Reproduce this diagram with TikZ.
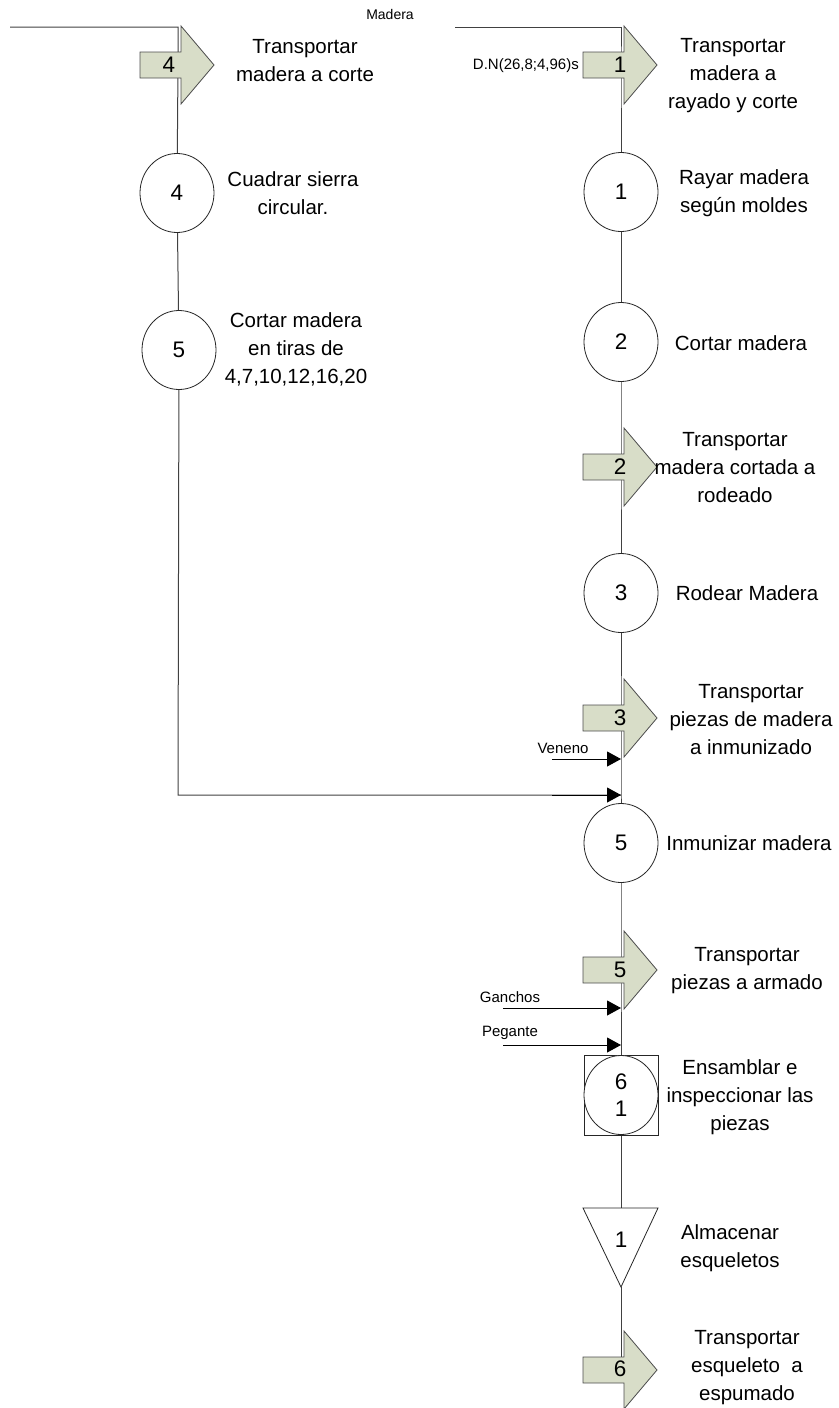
\documentclass[tikz,border=0pt]{standalone}
\usepackage{fontspec}
\setmainfont{Liberation Sans}
\usetikzlibrary{shapes.geometric,arrows.meta}
\definecolor{movefill}{RGB}{216,221,200}
\definecolor{lineg}{RGB}{65,65,65}
\pgfdeclarelayer{bg}
\pgfsetlayers{bg,main}

% transport symbol: block arrow centred on the flow line at #1
\newcommand\movearrow[1]{%
  \path[movebox] ([shift={(-38,13)}]#1) -- ([shift={(3,13)}]#1) -- ([shift={(3,39)}]#1)
    -- ([shift={(36,0)}]#1) -- ([shift={(3,-39)}]#1) -- ([shift={(3,-13)}]#1)
    -- ([shift={(-38,-13)}]#1) -- cycle;}

\begin{document}
\begin{tikzpicture}[x=1pt,y=-1pt,
  flow/.style={draw=lineg, line width=1pt},
  feed/.style={draw=black, line width=1pt, -{Triangle[length=14pt,width=15pt]}},
  op/.style={draw=black!85, line width=0.8pt, ellipse, minimum width=74pt,
    minimum height=79pt, inner sep=0pt, fill=white, font=\fontsize{22.5}{24}\selectfont},
  desc/.style={align=center, font=\fontsize{20.5}{28}\selectfont, inner sep=0pt},
  tag/.style={font=\fontsize{15}{18}\selectfont, inner sep=0pt},
  num/.style={font=\fontsize{22.5}{24}\selectfont, inner sep=0pt},
  movebox/.style={draw=black!70, line width=0.8pt, fill=movefill, line join=miter},
  storebox/.style={draw=black!85, line width=0.8pt, fill=white, line join=miter},
]
\useasboundingbox (0,0) rectangle (838,1408);

% ---------- left branch ----------
\coordinate (l0) at (10,27);
\coordinate (ltop) at (178,27);
\coordinate (a4) at (178,65);
\coordinate (lbot) at (178,795);

\movearrow{a4}
\node[num] (m4) at (169,65) {4};
\node[desc] (d4) at (305,61) {Transportar\\madera a corte};

\node[op] (o4) at (177,193) {4};
\node[desc] (t4) at (293,193) {Cuadrar sierra\\circular.};

\node[op] (o5l) at (179,350) {5};
\node[desc] (t5l) at (296,349) {Cortar madera\\en tiras de\\4,7,10,12,16,20};

% ---------- main branch ----------
\coordinate (r0) at (455,27);
\coordinate (rtop) at (621,27);
\node[tag] (madera) at (390,14) {\fontsize{14}{16}\selectfont Madera};

\coordinate (a1) at (621,65);
\movearrow{a1}
\node[num] (m1) at (620,65) {1};
\node[tag, anchor=east] (dn) at (579,66) {D.N(26,8;4,96)s};
\node[desc] (d1) at (733,76) {Transportar\\madera a\\rayado y corte};

\node[op] (o1) at (621,192) {1};
\node[desc] (t1) at (744,193) {Rayar madera\\según moldes};

\node[op] (o2) at (621,342) {2};
\node[desc] (t2) at (741,343) {Cortar madera};

\coordinate (a2) at (621,467);
\movearrow{a2}
\node[num] (m2) at (620,467) {2};
\node[desc] (d2) at (735,468) {Transportar\\madera cortada a\\rodeado};

\node[op] (o3) at (621,593) {3};
\node[desc] (t3) at (747,593) {Rodear Madera};

\coordinate (a3) at (621,718);
\movearrow{a3}
\node[num] (m3) at (620,718) {3};
\node[desc] (d3) at (751,720) {Transportar\\piezas de madera\\a inmunizado};

\coordinate (vin) at (552,759);
\coordinate (vj) at (621,759);
\node[tag] (veneno) at (563,748) {Veneno};

\coordinate (jf) at (552,795);
\coordinate (jn) at (621,795);

\node[op] (o5) at (621,843) {5};
\node[desc] (t5) at (749,843) {Inmunizar madera};

\coordinate (a5) at (621,970);
\movearrow{a5}
\node[num] (m5) at (620,970) {5};
\node[desc] (d5) at (747,971) {Transportar\\piezas a armado};

\coordinate (gin) at (503,1008);
\coordinate (gj) at (621,1008);
\node[tag] (ganchos) at (510,997) {Ganchos};
\coordinate (pin) at (503,1045);
\coordinate (pj) at (621,1045);
\node[tag] (pegante) at (510,1033) {Pegante};

\node[storebox, minimum width=74pt, minimum height=80pt, inner sep=0pt] (q6) at (621,1095) {};
\node[op, align=center, font=\fontsize{22.5}{27}\selectfont] (q6c) at (q6) {6\\1};
\node[desc] (t6) at (740,1097) {Ensamblar e\\inspeccionar las\\piezas};

\coordinate (s1) at (621,1208);
\coordinate (s1b) at (621,1287);
\path[storebox] (583,1208) -- (658,1208) -- (s1b) -- cycle;
\node[num] (ms1) at (621,1240) {1};
\node[desc] (ts1) at (730,1248) {Almacenar\\esqueletos};

\coordinate (a6) at (621,1370);
\movearrow{a6}
\node[num] (m6) at (620,1369) {6};
\node[desc] (d6) at (747,1368) {Transportar\\esqueleto\ \ a\\espumado};

% ---------- connectors ----------
\begin{pgfonlayer}{bg}
  \draw[flow] (l0) -- (ltop) -- (a4) -- (o4) -- (o5l) -- (lbot) -- (jn);
  \draw[flow] (r0) -- (rtop) -- (a1) -- (o1) -- (o2) -- (a2) -- (o3) -- (a3) -- (jn) -- (o5)
    -- (a5) -- (q6);
  \draw[flow] (q6) -- (s1);
  \draw[flow] (s1b) -- (a6);
\end{pgfonlayer}
\draw[feed] (vin) -- (vj);
\draw[feed] (jf) -- (jn);
\draw[feed] (gin) -- (gj);
\draw[feed] (pin) -- (pj);
\end{tikzpicture}
\end{document}
